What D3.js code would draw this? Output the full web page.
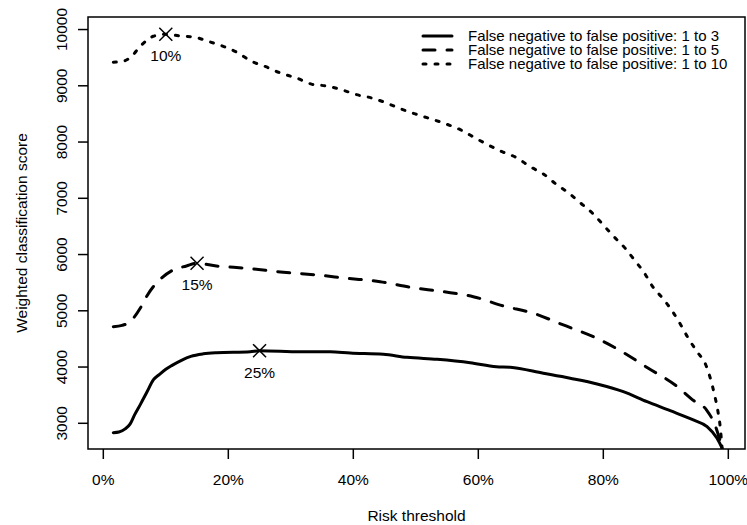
<!DOCTYPE html>
<html>
<head>
<meta charset="utf-8">
<script src="https://cdn.jsdelivr.net/npm/d3@7"></script>
<style>
  body { margin: 0; background: #fff; }
  svg text { font-family: "Liberation Sans", Arial, Helvetica, sans-serif; fill: #000; }
</style>
</head>
<body>
<svg id="chart" width="747" height="525"></svg>
<script>
// risk thresholds (%) and weighted scores
var thresh3 = [1.6, 2.5, 3.5, 4.3, 5, 6, 7, 8, 9, 10, 11, 12.5, 14, 16, 18.1, 23.5, 25, 31.5, 36.3, 39.5, 44.8, 48.6, 53.4, 58.7, 62.9, 65.1, 70.4, 74.7, 79, 83.2, 87, 90.7, 94.4, 96.6, 98.2, 99];
var score3 = [2833, 2845, 2900, 2990, 3150, 3350, 3560, 3770, 3870, 3960, 4030, 4120, 4190, 4235, 4255, 4273, 4291, 4273, 4273, 4250, 4227, 4173, 4138, 4078, 4006, 3996, 3889, 3800, 3699, 3562, 3384, 3224, 3059, 2940, 2733, 2560];

var thresh5 = [1.6, 3, 4.2, 5.9, 6.9, 8.3, 9.1, 11.2, 13.3, 15, 18.1, 22.9, 28.8, 34.2, 39, 44.3, 49.1, 54.4, 59.2, 64, 68.8, 73.6, 78.4, 83, 87.2, 91.5, 94.5, 96.5, 98, 99];
var score5 = [4717, 4740, 4800, 5044, 5251, 5470, 5560, 5726, 5797, 5845, 5797, 5756, 5685, 5637, 5578, 5518, 5418, 5340, 5251, 5086, 4956, 4748, 4540, 4273, 3978, 3681, 3400, 3240, 2930, 2560];

var thresh10 = [1.6, 3, 4.5, 5.9, 8, 10, 12.3, 14.7, 16.5, 19.2, 21.3, 23.7, 26.1, 28.5, 30.9, 33.3, 35.7, 38.1, 40.5, 42.9, 45.3, 47.5, 49.9, 52.3, 54.7, 57.1, 59.5, 61.6, 63.8, 66.1, 68.3, 70.4, 72.4, 74.5, 76.4, 78.4, 80, 81.7, 83.5, 85, 86.6, 87.9, 89.5, 91.1, 92.4, 93.6, 95, 96.4, 97.2, 97.8, 98.3, 98.7, 99];
var score10 = [9419, 9430, 9520, 9700, 9880, 9916, 9886, 9863, 9800, 9700, 9600, 9436, 9335, 9220, 9139, 9030, 8997, 8931, 8843, 8784, 8695, 8594, 8500, 8416, 8327, 8220, 8073, 7948, 7829, 7723, 7562, 7433, 7255, 7089, 6912, 6721, 6526, 6318, 6111, 5900, 5667, 5429, 5222, 4984, 4748, 4511, 4273, 4037, 3770, 3503, 3236, 2940, 2560];

// optimum points (threshold %, score)
var bestThresh = [25, 15, 10];
var bestScore = [4291, 5845, 9916];
var bestLabels = ['25%', '15%', '10%'];

var legendLabels = ['False negative to false positive: 1 to 3', 'False negative to false positive: 1 to 5', 'False negative to false positive: 1 to 10'];
var xTicks = [0, 20, 40, 60, 80, 100];
var yTicks = [3000, 4000, 5000, 6000, 7000, 8000, 9000, 10000];

var svg = d3.select('#chart');
// plot box edges (don't call it "top", that's window.top)
var boxL = 88, boxR = 745, boxT = 17, boxB = 449;

var x = d3.scaleLinear().domain([-2.45, 102.67]).range([boxL, boxR]);
var y = d3.scaleLinear().domain([2543, 10223]).range([boxB, boxT]);

var dashes = ['none', '12,12', '3,9'];
var series = [
    {t: thresh3, s: score3},
    {t: thresh5, s: score5},
    {t: thresh10, s: score10}
];

var line = d3.line()
    .x(function(d) { return x(d[0]); })
    .y(function(d) { return y(d[1]); })
    .curve(d3.curveMonotoneX);

svg.append('defs').append('clipPath').attr('id', 'clip')
    .append('rect')
    .attr('x', boxL).attr('y', boxT)
    .attr('width', boxR - boxL).attr('height', boxB - boxT);

var plot = svg.append('g').attr('clip-path', 'url(#clip)');

series.forEach(function(ser, i) {
    var pts = ser.t.map(function(t, j) { return [t, ser.s[j]]; });
    plot.append('path')
        .datum(pts)
        .attr('d', line)
        .style('fill', 'none')
        .style('stroke', '#000')
        .style('stroke-width', 3)
        .style('stroke-linecap', 'round')
        .style('stroke-linejoin', 'round')
        .style('stroke-dasharray', dashes[i]);
});

// crosses at the best threshold
bestThresh.forEach(function(t, i) {
    var cx = x(t), cy = y(bestScore[i]), r = 6.5;
    var g = svg.append('g');
    g.append('line').attr('x1', cx - r).attr('y1', cy - r).attr('x2', cx + r).attr('y2', cy + r);
    g.append('line').attr('x1', cx - r).attr('y1', cy + r).attr('x2', cx + r).attr('y2', cy - r);
    g.selectAll('line').style('stroke', '#000').style('stroke-width', 1.5);
    svg.append('text')
        .attr('x', cx)
        .attr('y', cy + 27)
        .attr('text-anchor', 'middle')
        .style('font-size', '15.5px')
        .text(bestLabels[i]);
});

// box
svg.append('rect')
    .attr('x', boxL).attr('y', boxT)
    .attr('width', boxR - boxL).attr('height', boxB - boxT)
    .style('fill', 'none')
    .style('stroke', '#000')
    .style('stroke-width', 1.5);

// x axis
var xAxis = svg.append('g');
xAxis.selectAll('line')
    .data(xTicks)
    .enter()
    .append('line')
    .attr('x1', function(d) { return x(d); })
    .attr('x2', function(d) { return x(d); })
    .attr('y1', boxB)
    .attr('y2', boxB + 10)
    .style('stroke', '#000')
    .style('stroke-width', 1.5);
xAxis.selectAll('text')
    .data(xTicks)
    .enter()
    .append('text')
    .attr('x', function(d) { return x(d); })
    .attr('y', 485)
    .attr('text-anchor', 'middle')
    .style('font-size', '15.5px')
    .text(function(d) { return d + '%'; });

// y axis
var yAxis = svg.append('g');
yAxis.selectAll('line')
    .data(yTicks)
    .enter()
    .append('line')
    .attr('x1', boxL - 10)
    .attr('x2', boxL)
    .attr('y1', function(d) { return y(d); })
    .attr('y2', function(d) { return y(d); })
    .style('stroke', '#000')
    .style('stroke-width', 1.5);
yAxis.selectAll('text')
    .data(yTicks)
    .enter()
    .append('text')
    .attr('transform', function(d) { return 'translate(67,' + y(d) + ') rotate(-90)'; })
    .attr('text-anchor', 'middle')
    .style('font-size', '15.5px')
    .text(function(d) { return d; });

svg.append('text')
    .attr('x', (boxL + boxR) / 2)
    .attr('y', 521)
    .attr('text-anchor', 'middle')
    .style('font-size', '15.5px')
    .text('Risk threshold');

svg.append('text')
    .attr('transform', 'translate(27,' + (boxT + boxB) / 2 + ') rotate(-90)')
    .attr('text-anchor', 'middle')
    .style('font-size', '15.5px')
    .text('Weighted classification score');

// legend
var rowY = [36, 50, 64];
var legend = svg.append('g');
legendLabels.forEach(function(lab, i) {
    legend.append('line')
        .attr('x1', 423).attr('x2', 452)
        .attr('y1', rowY[i]).attr('y2', rowY[i])
        .style('stroke', '#000')
        .style('stroke-width', 3)
        .style('stroke-linecap', 'round')
        .style('stroke-dasharray', dashes[i]);
    legend.append('text')
        .attr('x', 468)
        .attr('y', rowY[i] + 5)
        .style('font-size', '15px')
        .text(lab);
});
</script>
</body>
</html>
